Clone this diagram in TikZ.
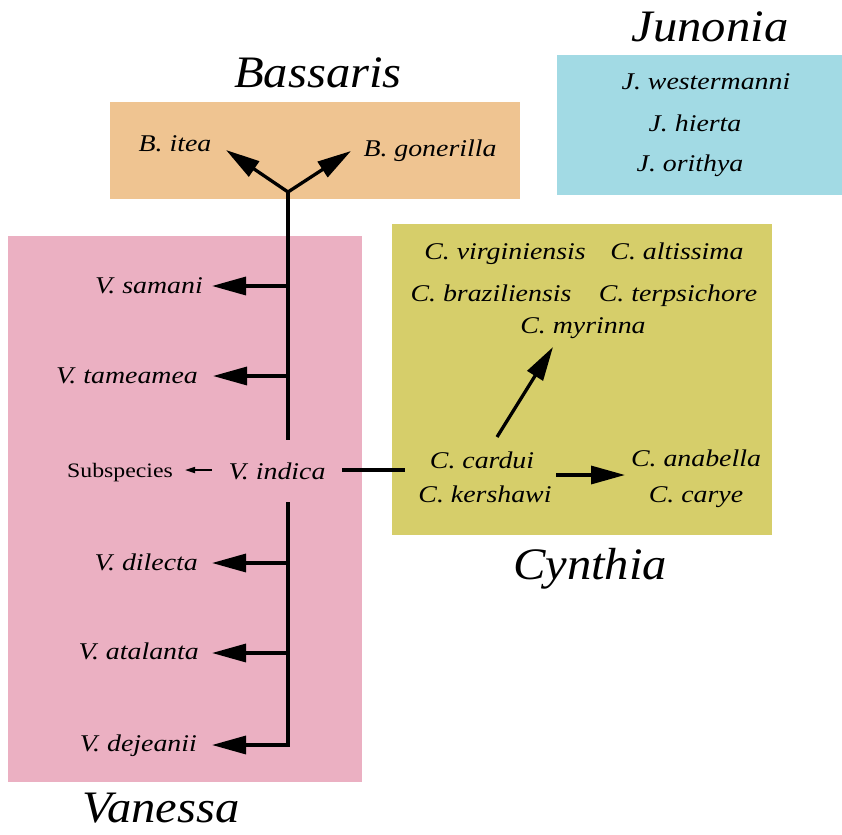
\documentclass[tikz,border=0pt]{standalone}
\usepackage{fontspec}
\setmainfont{Liberation Serif}
\newfontfamily\spfont[FakeStretch=1.16]{Liberation Serif}
\newfontfamily\gnfont[FakeStretch=1.08]{Liberation Serif}
\usetikzlibrary{arrows.meta}
\definecolor{pinkbg}{RGB}{235,176,194}
\definecolor{tanbg}{RGB}{239,196,145}
\definecolor{bluebg}{RGB}{162,218,228}
\definecolor{olivebg}{RGB}{214,206,106}
\tikzset{
  sp/.style={font=\spfont\fontsize{24}{28}\selectfont\itshape, inner sep=0pt},
  genus/.style={font=\gnfont\fontsize{45}{50}\selectfont\itshape, inner sep=0pt},
  sub/.style={font=\spfont\fontsize{20.5}{24}\selectfont, inner sep=0pt},
  link/.style={line width=3.3pt},
  arr/.style={line width=3.3pt, -{Triangle[length=34pt,width=18pt]}},
  smallarr/.style={line width=1.6pt, -{Triangle[length=10pt,width=6pt]}},
}
\begin{document}
\begin{tikzpicture}[x=1pt,y=-1pt]
\useasboundingbox (0,0) rectangle (842,834);
% boxes
\fill[tanbg] (110,102) rectangle (520,199);
\fill[bluebg] (557,55) rectangle (842,195);
\fill[pinkbg] (8,236) rectangle (362,782);
\fill[olivebg] (392,224) rectangle (772,535);
% genus titles
\node[genus,anchor=base] (tbass) at (318,88) {Bassaris};
\node[genus,anchor=base] (tjun) at (710,42) {Junonia};
\node[genus,anchor=base] (tcyn) at (590,579) {Cynthia};
\node[genus,anchor=base] (tvan) at (161,822) {Vanessa};
% Junonia
\node[sp,anchor=base] (jw) at (706,90) {J. westermanni};
\node[sp,anchor=base] (jh) at (695,132) {J. hierta};
\node[sp,anchor=base] (jo) at (690,172) {J. orithya};
% Bassaris
\node[sp,anchor=base] (bi) at (175,152) {B. itea};
\node[sp,anchor=base] (bg) at (430,157) {B. gonerilla};
\coordinate (fork) at (288,192);
\coordinate (bitip) at (226,150);
\coordinate (bgtip) at (351,151);
\draw[arr] (fork) -- (bitip);
\draw[arr] (fork) -- (bgtip);
% Vanessa
\coordinate (top) at (288,440);
\coordinate (bot) at (288,502);
\coordinate (j1) at (288,286);
\coordinate (j2) at (288,376);
\coordinate (j3) at (288,563);
\coordinate (j4) at (288,653);
\coordinate (j5) at (288,745);
\draw[link] (fork) -- (top);
\draw[link] (bot) -- ([yshift=1.65pt]j5);
\node[sp,anchor=base east] (vs) at (203,293) {V. samani};
\node[sp,anchor=base east] (vt) at (198,383) {V. tameamea};
\node[sp,anchor=base east] (vd) at (198,570) {V. dilecta};
\node[sp,anchor=base east] (va) at (199,659) {V. atalanta};
\node[sp,anchor=base east] (vj) at (197,751) {V. dejeanii};
\coordinate (t1) at (212,286);
\coordinate (t2) at (213,376);
\coordinate (t3) at (212,563);
\coordinate (t4) at (212,653);
\coordinate (t5) at (212,745);
\draw[arr] ([xshift=1.65pt]j1) -- (t1);
\draw[arr] ([xshift=1.65pt]j2) -- (t2);
\draw[arr] ([xshift=1.65pt]j3) -- (t3);
\draw[arr] ([xshift=1.65pt]j4) -- (t4);
\draw[arr] ([xshift=1.65pt]j5) -- (t5);
\node[sp,anchor=base] (vi) at (277,479) {V. indica};
\node[sub,anchor=base] (ss) at (120,477) {Subspecies};
\coordinate (s1) at (212,470);
\coordinate (s2) at (185,470);
\draw[smallarr] (s1) -- (s2);
\coordinate (cl) at (342,470);
\coordinate (cr) at (405,470);
\draw[link] (cl) -- (cr);
% Cynthia
\node[sp,anchor=base] (cv) at (505,259) {C. virginiensis};
\node[sp,anchor=base] (ca) at (677,259) {C. altissima};
\node[sp,anchor=base] (cb) at (491,301) {C. braziliensis};
\node[sp,anchor=base] (ct) at (678,301) {C. terpsichore};
\node[sp,anchor=base] (cm) at (583,333) {C. myrinna};
\node[sp,anchor=base] (cc) at (482,468) {C. cardui};
\node[sp,anchor=base] (ck) at (485,502) {C. kershawi};
\node[sp,anchor=base] (can) at (696,466) {C. anabella};
\node[sp,anchor=base] (ccy) at (696,502) {C. carye};
\coordinate (m1) at (497,437);
\coordinate (m2) at (553,347);
\coordinate (a1) at (556,475);
\coordinate (a2) at (625,475);
\draw[arr] (m1) -- (m2);
\draw[arr] (a1) -- (a2);
\end{tikzpicture}
\end{document}
